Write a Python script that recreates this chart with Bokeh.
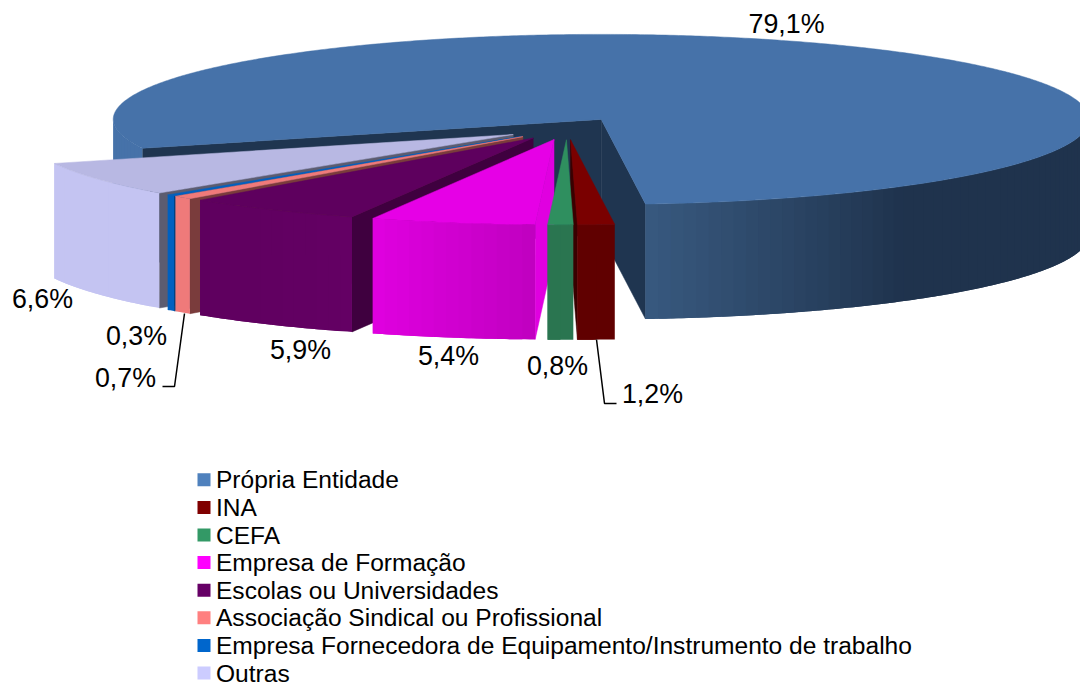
import numpy as np
from bokeh.plotting import figure
from bokeh.core.properties import value
from bokeh.embed import file_html
from bokeh.resources import INLINE

categories = ["Própria Entidade", "INA", "CEFA", "Empresa de Formação", "Escolas ou Universidades",
              "Associação Sindical ou Profissional",
              "Empresa Fornecedora de Equipamento/Instrumento de trabalho", "Outras"]
values = [79.08, 1.22, 0.84, 5.44, 5.9, 0.66, 0.3, 6.56]

legend_colors = ["#4f81bd", "#800000", "#339966", "#ff00ff", "#660066", "#ff8080", "#0066cc", "#ccccff"]
top_colors = ["#4672a9", "#7a0000", "#2f8f5f", "#e600e6", "#5e005e", "#ef7a7a", "#0060c0", "#b8b8e3"]
cut_colors = ["#1f3550", "#3a0000", "#1f5c3e", "#e000e0", "#3f003f", "#7a3c3c", "#00407f", "#5c5c70"]
wall_near = ["#38597f", "#600000", "#2a7550", "#c000c0", "#640064", "#ef7a7a", "#0060c0", "#c4c4f2"]
wall_far = ["#1f334d", "#600000", "#2a7550", "#e000e0", "#5e005e", "#ef7a7a", "#0060c0", "#c4c4f2"]
main_back_wall = "#4672a9"

label_x = [786, 652, 557, 448, 300, 125, 136, 42]
label_y = [23, 393, 365, 355, 349, 377, 335, 298]
leader_xs = [[596, 604, 616], [184, 174, 162]]
leader_ys = [[339, 403, 403], [313, 386, 386]]

CX, CY = 566.7, 128.2
RX, RY = 488.0, 85.0
DEPTH = 115.0
EXPLODE = 0.13
START = -109.89
FONT = "Liberation Sans"


def hex2rgb(h):
    return np.array([int(h[i:i + 2], 16) for i in (1, 3, 5)], dtype=float)


def mix(a, b, t):
    c = hex2rgb(a) * (1 - t) + hex2rgb(b) * t
    return "#%02x%02x%02x" % tuple(int(round(v)) for v in c)


p = figure(width=1080, height=683, x_range=(0, 1080), y_range=(683, 0),
           output_backend="svg", toolbar_location=None, min_border=0,
           outline_line_color=None)
p.axis.visible = False
p.grid.visible = False
p.background_fill_color = "#ffffff"
p.border_fill_color = "#ffffff"

edges = START + np.cumsum([0] + values) * 3.6


def px(ax, th):
    return ax + RX * np.sin(np.radians(th))


def py(ay, th):
    return ay - RY * np.cos(np.radians(th))


order = [0, 7, 6, 5, 4, 3, 1, 2]
xs, ys, cols, alphas = [], [], [], []
for i in order:
    a, b = edges[i], edges[i + 1]
    mid = np.radians((a + b) / 2)
    ax = CX + EXPLODE * RX * np.sin(mid)
    ay = CY - EXPLODE * RY * np.cos(mid)
    if np.sin(np.radians(a)) < 0:
        xs.append([ax, px(ax, a), px(ax, a), ax])
        ys.append([ay, py(ay, a), py(ay, a) + DEPTH, ay + DEPTH])
        cols.append(cut_colors[i]); alphas.append(1.0)
    if np.sin(np.radians(b)) > 0:
        xs.append([ax, px(ax, b), px(ax, b), ax])
        ys.append([ay, py(ay, b), py(ay, b) + DEPTH, ay + DEPTH])
        cols.append(cut_colors[i]); alphas.append(1.0)
    n = max(2, int((b - a) / 1.5) + 1)
    th = np.linspace(a, b, n)
    step = th[1] - th[0]
    for t0 in th[:-1]:
        t1 = min(t0 + step, b)
        tm = (t0 + t1) / 2
        if np.cos(np.radians(tm)) > 0:
            continue
        if i == 0:
            if tm < 0:
                c = main_back_wall
            else:
                c = mix(wall_far[0], wall_near[0], float(np.clip((tm - 142) / (b - 142), 0, 1)))
        else:
            c = mix(wall_near[i], wall_far[i], (tm - a) / (b - a))
        # each band runs on under the next one, so that no seam shows
        t2 = min(t1 + step, b)
        tb = np.linspace(t0, t2, 6)
        xs.append(list(px(ax, tb)) + list(px(ax, tb[::-1])))
        ys.append(list(py(ay, tb)) + list(py(ay, tb[::-1]) + DEPTH))
        cols.append(c); alphas.append(0.0)
    tt = np.linspace(a, b, max(3, int(b - a) * 2))
    xs.append([ax] + list(px(ax, tt)))
    ys.append([ay] + list(py(ay, tt)))
    cols.append(top_colors[i]); alphas.append(1.0)

p.patches(xs, ys, fill_color=cols, line_color=cols, line_alpha=alphas, line_width=0.5)

p.multi_line(leader_xs, leader_ys, line_color="#000000", line_width=1.5)

labels = [("%.1f%%" % v).replace(".", ",") for v in values]
p.text(label_x, label_y, text=labels, text_font=value(FONT), text_font_size="26.8px",
       text_align="center", text_baseline="middle", text_color="#000000")

ly = [479.3 + 27.6 * k for k in range(len(categories))]
p.rect([203.5] * len(ly), ly, width=13, height=13, fill_color=legend_colors, line_color=None)
p.text([215.5] * len(ly), ly, text=categories, text_font=value(FONT),
       text_font_size="24.55px", text_align="left", text_baseline="middle", text_color="#000000")

open("out.html", "w").write(file_html(p, INLINE))
